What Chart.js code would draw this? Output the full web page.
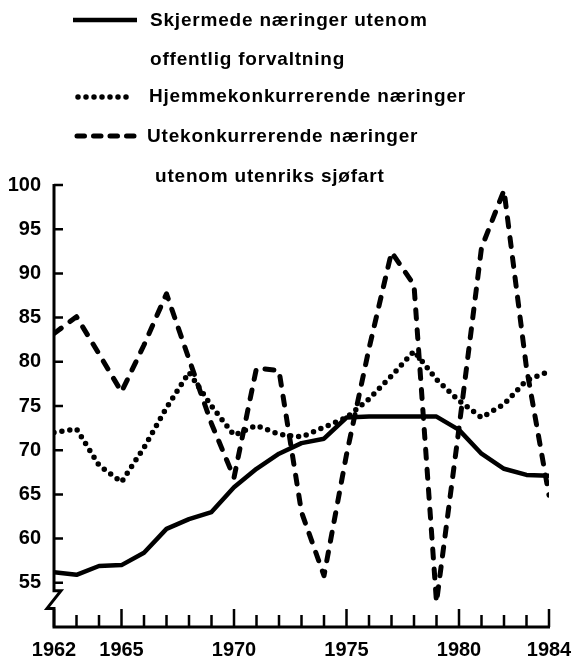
<!DOCTYPE html>
<html>
<head>
<meta charset="utf-8">
<script src="https://cdn.jsdelivr.net/npm/chart.js@4.4.1/dist/chart.umd.min.js"></script>
<style>
  body { margin: 0; background: #fff; }
  canvas { display: block; }
</style>
</head>
<body>
<canvas id="chart" width="585" height="656"></canvas>
<script>
const years = [1962, 1963, 1964, 1965, 1966, 1967, 1968, 1969, 1970, 1971, 1972, 1973,
               1974, 1975, 1976, 1977, 1978, 1979, 1980, 1981, 1982, 1983, 1984];

// Skjermede næringer utenom offentlig forvaltning
const skjermede = [56.2, 55.9, 56.9, 57.0, 58.4, 61.1, 62.2, 63.0, 65.8, 67.9, 69.6, 70.8,
                   71.3, 73.7, 73.8, 73.8, 73.8, 73.8, 72.3, 69.6, 67.9, 67.2, 67.1];

// Hjemmekonkurrerende næringer
const hjemme = [72.0, 72.4, 68.3, 66.4, 70.3, 74.8, 78.8, 75.0, 71.7, 72.8, 71.8, 71.5,
                72.6, 73.7, 75.8, 78.4, 81.2, 78.0, 75.6, 73.7, 75.2, 77.9, 78.9];

// Utekonkurrerende næringer utenom utenriks sjøfart
const ute = [83.2, 85.1, 80.9, 76.6, 81.9, 87.7, 80.3, 73.0, 66.9, 79.3, 79.0, 63.0,
             55.8, 69.5, 81.5, 92.4, 88.7, 52.8, 72.5, 92.9, 99.4, 79.3, 64.9];

const xTickLabels = [1962, 1965, 1970, 1975, 1980, 1984];
const yTickLabels = [55, 60, 65, 70, 75, 80, 85, 90, 95, 100];

const legendText = [
    ["Skjermede næringer utenom", "offentlig forvaltning"],
    ["Hjemmekonkurrerende næringer"],
    ["Utekonkurrerende næringer", "utenom utenriks sjøfart"]
];

const FONT = '"Liberation Sans", Arial, Helvetica, sans-serif';
Chart.defaults.font.family = FONT;
Chart.defaults.color = "#000";

function toPoints(values) {
    return values.map((v, i) => ({ x: years[i], y: v }));
}

// axes drawn by hand: broken y axis and inward tick marks
const axisPlugin = {
    id: "axes",
    afterDraw(chart) {
        const ctx = chart.ctx;
        const xs = chart.scales.x;
        const ys = chart.scales.y;
        const area = chart.chartArea;
        const left = area.left;

        ctx.save();
        ctx.strokeStyle = "#000";
        ctx.lineWidth = 3;
        ctx.lineJoin = "miter";

        const b1 = ys.getPixelForValue(54.1);
        const b2 = ys.getPixelForValue(52.1);

        ctx.beginPath();
        ctx.moveTo(left, area.top - 1);
        ctx.lineTo(left, b1);
        ctx.lineTo(left + 7, b1);
        ctx.lineTo(left - 7, b2);
        ctx.lineTo(left, b2);
        ctx.lineTo(left, area.bottom);
        ctx.lineTo(area.right + 1, area.bottom);
        ctx.stroke();

        ctx.lineWidth = 2.5;
        ctx.beginPath();
        yTickLabels.forEach(v => {
            const py = ys.getPixelForValue(v);
            ctx.moveTo(left, py);
            ctx.lineTo(left + 9, py);
        });
        years.forEach(yr => {
            const px = xs.getPixelForValue(yr);
            const len = xTickLabels.includes(yr) ? 18 : 12;
            ctx.moveTo(px, area.bottom);
            ctx.lineTo(px, area.bottom - len);
        });
        ctx.stroke();
        ctx.restore();
    }
};

const legendPlugin = {
    id: "sideLegend",
    afterDraw(chart) {
        const ctx = chart.ctx;
        const rows = [
            { ds: 0, sx: [73, 137], sy: 20, tx: 150, ty: [26, 65] },
            { ds: 1, sx: [78, 130], sy: 97, tx: 149, ty: [102] },
            { ds: 2, sx: [77, 134], sy: 136, tx: 147, ty: [142, 182], dash: [7.5, 9] }
        ];
        ctx.save();
        ctx.fillStyle = "#000";
        ctx.font = "bold 19px " + FONT;
        ctx.letterSpacing = "0.8px";
        ctx.textBaseline = "alphabetic";
        rows.forEach((r, i) => {
            const ds = chart.data.datasets[r.ds];
            ctx.strokeStyle = ds.borderColor;
            ctx.lineWidth = ds.borderWidth;
            ctx.lineCap = ds.borderCapStyle || "butt";
            ctx.setLineDash(r.dash || ds.borderDash || []);
            ctx.beginPath();
            ctx.moveTo(r.sx[0], r.sy);
            ctx.lineTo(r.sx[1], r.sy);
            ctx.stroke();
            legendText[i].forEach((t, j) => {
                const x = j === 0 ? r.tx : r.tx + (i === 2 ? 8 : 0);
                ctx.fillText(t, x, r.ty[j]);
            });
        });
        ctx.restore();
    }
};

new Chart(document.getElementById("chart"), {
    type: "line",
    data: {
        datasets: [
            {
                label: "Skjermede næringer utenom offentlig forvaltning",
                data: toPoints(skjermede),
                borderColor: "#000",
                borderWidth: 4.5,
                borderCapStyle: "butt",
                borderJoinStyle: "round"
            },
            {
                label: "Hjemmekonkurrerende næringer",
                data: toPoints(hjemme),
                borderColor: "#000",
                borderWidth: 5.5,
                borderDash: [0, 8],
                borderCapStyle: "round",
                borderJoinStyle: "round"
            },
            {
                label: "Utekonkurrerende næringer utenom utenriks sjøfart",
                data: toPoints(ute),
                borderColor: "#000",
                borderWidth: 5,
                borderDash: [9, 11],
                borderCapStyle: "round",
                borderJoinStyle: "round"
            }
        ]
    },
    options: {
        responsive: false,
        devicePixelRatio: 1,
        animation: false,
        layout: { padding: { top: 185, right: 36, left: 0, bottom: 0 } },
        plugins: {
            legend: { display: false },
            tooltip: { enabled: false }
        },
        elements: {
            point: { radius: 0 },
            line: { tension: 0 }
        },
        scales: {
            x: {
                type: "linear",
                min: 1962,
                max: 1984,
                grid: { display: false },
                border: { display: false },
                afterBuildTicks: s => { s.ticks = xTickLabels.map(v => ({ value: v })); },
                afterFit: s => { s.height = 29; },
                ticks: {
                    color: "#000",
                    font: { size: 20, weight: "bold" },
                    padding: 3,
                    maxRotation: 0,
                    autoSkip: false,
                    callback: v => String(v)
                }
            },
            y: {
                min: 50,
                max: 100,
                grid: { display: false },
                border: { display: false },
                afterBuildTicks: s => { s.ticks = yTickLabels.map(v => ({ value: v })); },
                afterFit: s => { s.width = 54; },
                ticks: {
                    color: "#000",
                    font: { size: 20, weight: "bold" },
                    padding: 5,
                    callback: v => String(v)
                }
            }
        }
    },
    plugins: [axisPlugin, legendPlugin]
});
</script>
</body>
</html>
